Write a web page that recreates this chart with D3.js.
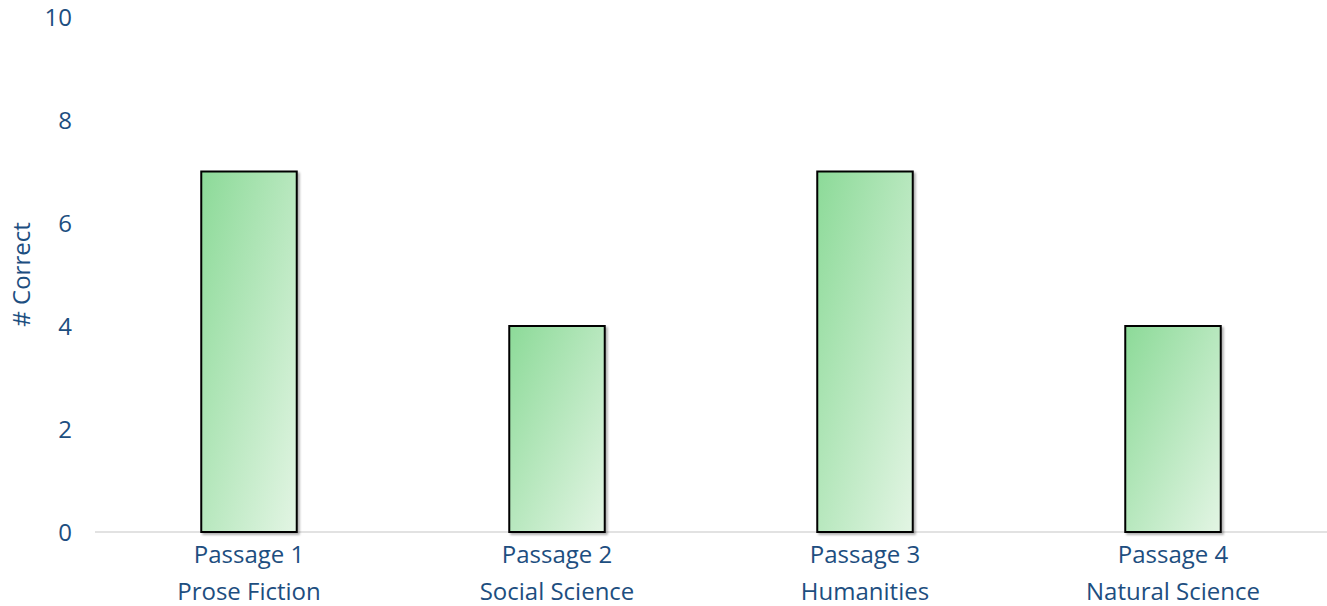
<!DOCTYPE html>
<html><head><meta charset="utf-8">
<script src="https://cdn.jsdelivr.net/npm/d3@7"></script>
<style>body{margin:0;background:#fff}svg{display:block}</style>
</head><body>
<svg id="c" width="1327" height="606"></svg>
<script>
const passages = ["Passage 1","Passage 2","Passage 3","Passage 4"];
const genres = ["Prose Fiction","Social Science","Humanities","Natural Science"];
const correct = [7,4,7,4];
const yTicks = [0,2,4,6,8,10];

const svg = d3.select("#c");
const W=1327,H=606;
const m={left:95,right:0,top:17,bottom:74};
const textColor="#1d4e80";
const font="'Open Sans', sans-serif";
const fs=24;

const x=d3.scaleBand().domain(passages).range([m.left,W-m.right]).paddingInner(0.69).paddingOuter(0.345);
const y=d3.scaleLinear().domain([0,10]).range([H-m.bottom,m.top]);

const defs=svg.append("defs");
const g=defs.append("linearGradient").attr("id","grad").attr("x1",0).attr("y1",0).attr("x2",1).attr("y2",1);
g.append("stop").attr("offset","0%").attr("stop-color","#8cda98");
g.append("stop").attr("offset","100%").attr("stop-color","#e3f5e4");
const f=defs.append("filter").attr("id","sh").attr("x","-10%").attr("y","-10%").attr("width","130%").attr("height","130%");
f.append("feDropShadow").attr("dx",2).attr("dy",2).attr("stdDeviation",1).attr("flood-color","#000").attr("flood-opacity",0.3);

// axis line
svg.append("line").attr("x1",m.left).attr("x2",W).attr("y1",y(0)).attr("y2",y(0)).attr("stroke","#d9d9d9").attr("stroke-width",1.5);

// y axis labels
const ya=svg.append("g").attr("transform",`translate(${m.left-23},0)`).call(d3.axisLeft(y).tickValues(yTicks).tickSize(0).tickPadding(0));
ya.select(".domain").remove();
ya.selectAll("text").attr("font-family",font).attr("font-size",fs).attr("fill",textColor).attr("text-anchor","end").attr("dy","0.35em");

// bars
svg.selectAll("rect.bar").data(passages).enter().append("rect").attr("class","bar")
 .attr("x",d=>x(d)).attr("width",x.bandwidth())
 .attr("y",(d,i)=>y(correct[i])).attr("height",(d,i)=>y(0)-y(correct[i]))
 .attr("fill","url(#grad)").attr("stroke","#000").attr("stroke-width",2).attr("filter","url(#sh)");

// x labels
const xl=svg.append("g");
passages.forEach((p,i)=>{
  const cx=x(p)+x.bandwidth()/2;
  const t=xl.append("text").attr("x",cx).attr("y",y(0)+31).attr("text-anchor","middle")
   .attr("font-family",font).attr("font-size",fs).attr("fill",textColor);
  t.append("tspan").attr("x",cx).text(p);
  t.append("tspan").attr("x",cx).attr("dy",37).text(genres[i]);
});

// y title
svg.append("text").attr("transform",`translate(30,${(y(0)+y(10))/2}) rotate(-90)`).attr("text-anchor","middle")
 .attr("font-family",font).attr("font-size",fs).attr("fill",textColor).text("# Correct");
</script>
</body></html>
